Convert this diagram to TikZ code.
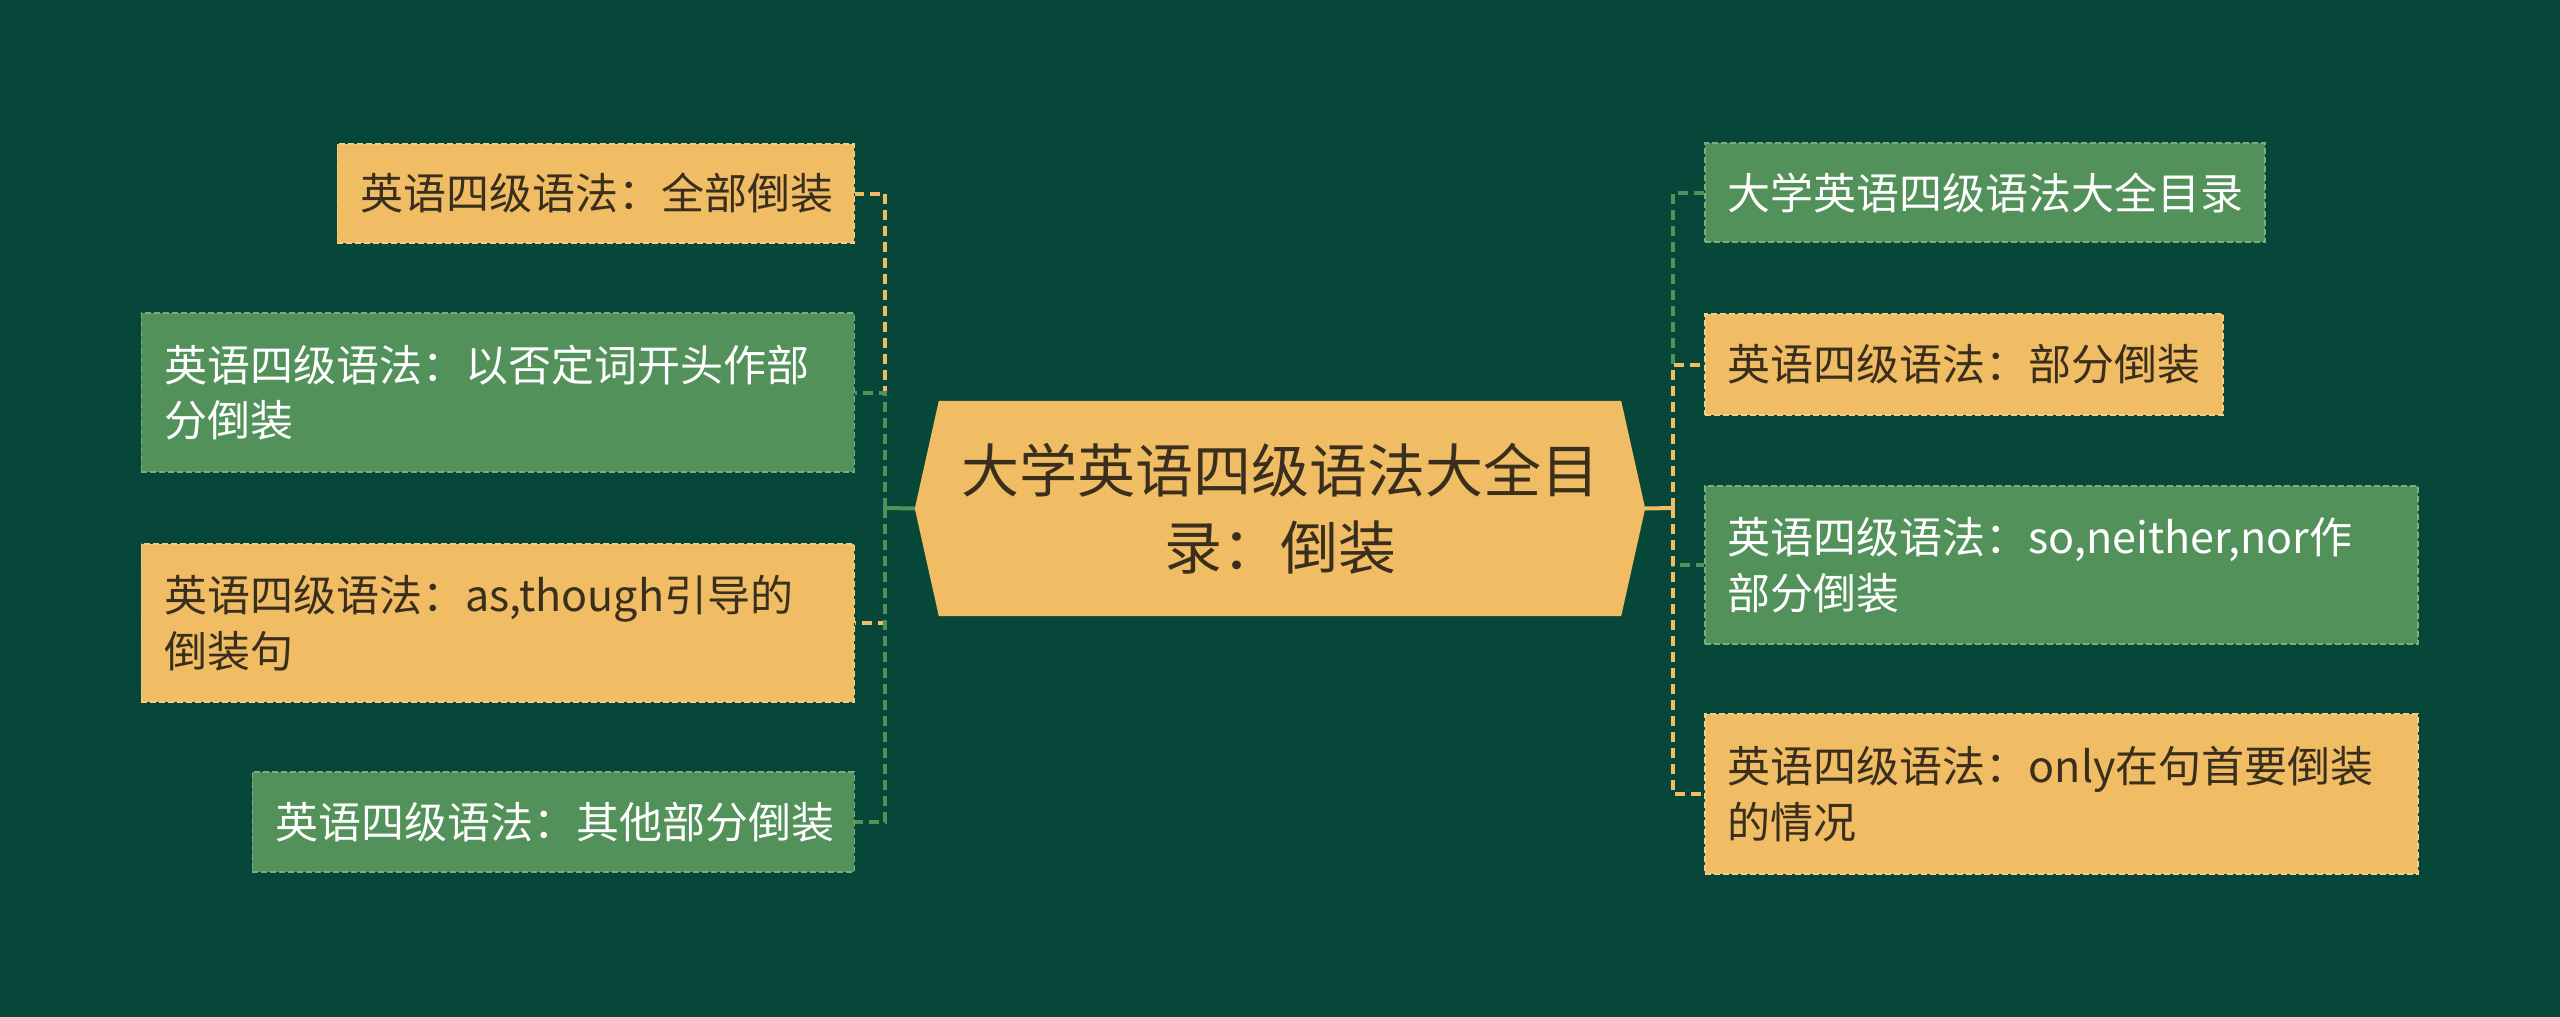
\documentclass[tikz,border=0pt]{standalone}
\usepackage{fontspec}
\setmainfont{Noto Sans CJK SC}
\usetikzlibrary{backgrounds,calc}
\definecolor{bgdark}{HTML}{07473A}
\definecolor{leafgold}{HTML}{F0BC64}
\definecolor{leafgreen}{HTML}{529159}
\definecolor{inkdark}{HTML}{3A2E1C}
\tikzset{
    leaf/.style = {rectangle, inner xsep=23pt, inner ysep=0pt, align=left,
        font=\fontsize{43}{55.5}\selectfont, dash pattern=on 6pt off 3pt, line width=1.5pt},
    goldleaf/.style = {leaf, fill=leafgold, draw=leafgold!75!white, text=inkdark},
    greenleaf/.style = {leaf, fill=leafgreen, draw=leafgreen!75!white, text=white},
    goldlink/.style = {draw=leafgold, line width=4pt, dash pattern=on 10pt off 6pt},
    greenlink/.style = {draw=leafgreen, line width=4pt, dash pattern=on 10pt off 6pt},
    hub/.style = {rectangle, minimum width=730pt, minimum height=215pt, align=center,
        text=inkdark, font=\fontsize{58}{77}\selectfont}
}

\begin{document}
\begin{tikzpicture}[x=1pt,y=-1pt]
    \useasboundingbox (0,0) rectangle (2560,1017);
    % central topic
    \node [hub] (hub) at (1280,508.5) {大学英语四级语法大全目\\录：倒装};
    \begin{scope}[on background layer]
        \fill [bgdark] (0,0) rectangle (2560,1017);
        \fill [leafgold] (hub.west) -- ([xshift=24pt]hub.north west) -- ([xshift=-24pt]hub.north east)
            -- (hub.east) -- ([xshift=-24pt]hub.south east) -- ([xshift=24pt]hub.south west) -- cycle;
    \end{scope}
    % left branch
    \node [goldleaf, anchor=east, text width=471pt, minimum height=99pt] (l1) at (855,193.5) {英语四级语法：全部倒装};
    \node [greenleaf, anchor=east, text width=667pt, minimum height=159pt] (l2) at (855,392.5) {英语四级语法：以否定词开头作部\\分倒装};
    \node [goldleaf, anchor=east, text width=667pt, minimum height=158pt] (l3) at (855,623) {英语四级语法：as,though引导的\\倒装句};
    \node [greenleaf, anchor=east, text width=556pt, minimum height=100pt] (l4) at (855,822) {英语四级语法：其他部分倒装};
    % right branch
    \node [greenleaf, anchor=west, text width=514pt, minimum height=99pt] (r1) at (1704,192.5) {大学英语四级语法大全目录};
    \node [goldleaf, anchor=west, text width=472pt, minimum height=101pt] (r2) at (1704,364.5) {英语四级语法：部分倒装};
    \node [greenleaf, anchor=west, text width=667pt, minimum height=158pt] (r3) at (1704,565) {英语四级语法：so,neither,nor作\\部分倒装};
    \node [goldleaf, anchor=west, text width=667pt, minimum height=160pt] (r4) at (1704,794) {英语四级语法：only在句首要倒装\\的情况};
    % connectors
    \coordinate (lj) at (885,508);
    \coordinate (rj) at (1673,508);
    \draw [goldlink] (lj) |- (l1.east);
    \draw [greenlink] (lj) |- (l2.east);
    \draw [goldlink] (lj) |- (l3.east);
    \draw [greenlink] (lj) |- (l4.east);
    \draw [greenlink, solid] (hub.west) -- (lj);
    \draw [greenlink] (rj) |- (r1.west);
    \draw [goldlink] (rj) |- (r2.west);
    \draw [greenlink] (rj) |- (r3.west);
    \draw [goldlink] (rj) |- (r4.west);
    \draw [goldlink, solid] (hub.east) -- (rj);
\end{tikzpicture}
\end{document}
